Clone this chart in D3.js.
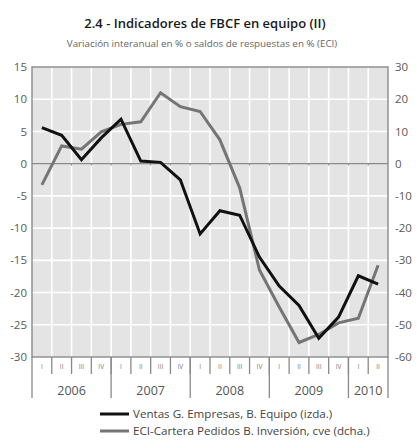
<!DOCTYPE html>
<html>
<head>
<meta charset="utf-8">
<script src="https://cdn.jsdelivr.net/npm/d3@7/dist/d3.min.js"></script>
<style>
  html, body { margin: 0; padding: 0; background: #fff; }
  svg { display: block; font-family: "Open Sans", "DejaVu Sans", sans-serif; }
</style>
</head>
<body>
<svg id="chart" width="417" height="440"></svg>
<script>
// Quarterly periods, 2006 I to 2010 II
const quarters = ["I","II","III","IV","I","II","III","IV","I","II","III","IV","I","II","III","IV","I","II"];
const years = ["2006","2007","2008","2009","2010"];
const quartersPerYear = [4, 4, 4, 4, 2];

// Ventas G. Empresas, B. Equipo — year-on-year % (left axis)
const ventas = [5.6, 4.4, 0.6, 4.0, 6.9, 0.4, 0.2, -2.5, -10.9, -7.3, -8.0, -14.5, -19.0, -22.0, -27.1, -23.8, -17.4, -18.7];
// ECI-Cartera Pedidos B. Inversión, cve — balance % (right axis)
const eci = [-6.6, 5.5, 4.5, 9.9, 12.2, 13.0, 22.0, 17.7, 16.2, 7.4, -7.5, -33.0, -44.5, -55.5, -53.0, -49.4, -48.0, -31.5];

const leftTicks = [15, 10, 5, 0, -5, -10, -15, -20, -25, -30];
const rightTicks = [30, 20, 10, 0, -10, -20, -30, -40, -50, -60];

const svg = d3.select("#chart");
const m = { left: 32, right: 388, top: 67, bottom: 357 };

const idx = d3.range(quarters.length);
const x = d3.scaleBand().domain(idx).range([m.left, m.right]).paddingInner(0).paddingOuter(0);
const yL = d3.scaleLinear().domain([-30, 15]).range([m.bottom, m.top]);
const yR = d3.scaleLinear().domain([-60, 30]).range([m.bottom, m.top]);

// Titles
svg.append("text").attr("x", 205).attr("y", 28).attr("text-anchor", "middle")
  .attr("font-size", 13).attr("font-weight", 600).attr("fill", "#1a1a1a")
  .text("2.4 - Indicadores de FBCF en equipo (II)");
svg.append("text").attr("x", 202).attr("y", 47).attr("text-anchor", "middle")
  .attr("font-size", 9.8).attr("fill", "#666")
  .text("Variación interanual en % o saldos de respuestas en % (ECI)");

// Plot background
svg.append("rect").attr("x", m.left).attr("y", m.top)
  .attr("width", m.right - m.left).attr("height", m.bottom - m.top)
  .attr("fill", "#e4e4e4");

// White grid
const grid = svg.append("g").attr("stroke", "#fff").attr("stroke-width", 1.6);
grid.selectAll("line.h").data(leftTicks.filter(d => d !== 0 && d !== 15 && d !== -30)).join("line")
  .attr("x1", m.left).attr("x2", m.right).attr("y1", d => yL(d)).attr("y2", d => yL(d));
grid.selectAll("line.v").data(idx.slice(1)).join("line")
  .attr("x1", d => x(d)).attr("x2", d => x(d)).attr("y1", m.top).attr("y2", m.bottom);

// Zero line with small ticks
svg.append("line").attr("x1", m.left).attr("x2", m.right)
  .attr("y1", yL(0)).attr("y2", yL(0)).attr("stroke", "#8a8a8a").attr("stroke-width", 1.2);
svg.append("g").selectAll("line").data(idx.slice(1)).join("line")
  .attr("x1", d => x(d)).attr("x2", d => x(d))
  .attr("y1", yL(0)).attr("y2", yL(0) + 2).attr("stroke", "#8a8a8a").attr("stroke-width", 1);

// Frame
svg.append("rect").attr("x", m.left).attr("y", m.top)
  .attr("width", m.right - m.left).attr("height", m.bottom - m.top)
  .attr("fill", "none").attr("stroke", "#8a8a8a").attr("stroke-width", 1.4);

// Y axis labels
svg.append("g").selectAll("text").data(leftTicks).join("text")
  .attr("x", 27).attr("y", d => yL(d)).attr("dy", "0.36em").attr("text-anchor", "end")
  .attr("font-size", 11.5).attr("fill", "#5a5a5a").text(d => d);
svg.append("g").selectAll("text").data(rightTicks).join("text")
  .attr("x", 395).attr("y", d => yR(d)).attr("dy", "0.36em").attr("text-anchor", "start")
  .attr("font-size", 11.5).attr("fill", "#5a5a5a").text(d => d);

// X axis: quarter separators and labels
const xa = svg.append("g");
xa.selectAll("line.q").data(idx.slice(1)).join("line")
  .attr("x1", d => x(d)).attr("x2", d => x(d))
  .attr("y1", m.bottom).attr("y2", m.bottom + 17)
  .attr("stroke", "#8a8a8a").attr("stroke-width", 1.3);
xa.selectAll("text.q").data(idx).join("text")
  .attr("x", d => x(d) + x.bandwidth() / 2).attr("y", m.bottom + 12)
  .attr("text-anchor", "middle").attr("font-size", 6.5).attr("fill", "#777")
  .text(d => quarters[d]);

// Year separators and labels
const yearStart = [];
let acc = 0;
quartersPerYear.forEach(n => { yearStart.push(acc); acc += n; });
const bounds = yearStart.concat([quarters.length]);
xa.selectAll("line.y").data(bounds).join("line")
  .attr("x1", d => d < quarters.length ? x(d) : m.right)
  .attr("x2", d => d < quarters.length ? x(d) : m.right)
  .attr("y1", m.bottom).attr("y2", m.bottom + 41)
  .attr("stroke", "#8a8a8a").attr("stroke-width", 1.3);
xa.selectAll("text.y").data(years).join("text")
  .attr("x", (d, i) => {
    const a = x(yearStart[i]);
    const b = i + 1 < years.length ? x(yearStart[i + 1]) : m.right;
    return (a + b) / 2;
  })
  .attr("y", m.bottom + 38).attr("text-anchor", "middle")
  .attr("font-size", 12.5).attr("fill", "#555").text(d => d);

// Series lines
const cx = i => x(i) + x.bandwidth() / 2;
svg.append("path").datum(eci)
  .attr("d", d3.line().x((d, i) => cx(i)).y(d => yR(d)))
  .attr("fill", "none").attr("stroke", "#757575").attr("stroke-width", 3).attr("stroke-linejoin", "miter");
svg.append("path").datum(ventas)
  .attr("d", d3.line().x((d, i) => cx(i)).y(d => yL(d)))
  .attr("fill", "none").attr("stroke", "#111").attr("stroke-width", 3).attr("stroke-linejoin", "miter");

// Legend
const legend = [
  { label: "Ventas G. Empresas, B. Equipo (izda.)", color: "#111", y: 414 },
  { label: "ECI-Cartera Pedidos B. Inversión, cve (dcha.)", color: "#757575", y: 431 }
];
const lg = svg.append("g");
lg.selectAll("line").data(legend).join("line")
  .attr("x1", 100).attr("x2", 129).attr("y1", d => d.y).attr("y2", d => d.y)
  .attr("stroke", d => d.color).attr("stroke-width", 3);
lg.selectAll("text").data(legend).join("text")
  .attr("x", 133).attr("y", d => d.y).attr("dy", "0.35em")
  .attr("font-size", 11.6).attr("fill", "#444").text(d => d.label);
</script>
</body>
</html>
